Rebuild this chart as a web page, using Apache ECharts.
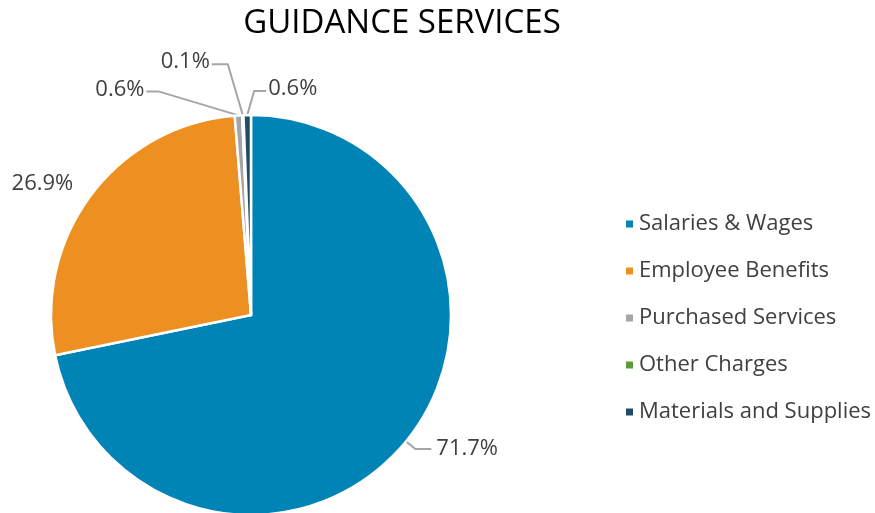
<!DOCTYPE html>
<html>
<head>
<meta charset="utf-8">
<script src="https://cdn.jsdelivr.net/npm/echarts@6/dist/echarts.min.js"></script>
<style>
  html, body { margin: 0; padding: 0; background: #fff; }
  #chart { width: 875px; height: 513px; }
</style>
</head>
<body>
<div id="chart"></div>
<script>
const categories = ['Salaries & Wages', 'Employee Benefits', 'Purchased Services', 'Other Charges', 'Materials and Supplies'];
const shares = [71.7, 26.9, 0.6, 0.1, 0.6];
const colors = ['#0083B5', '#EE9021', '#A5A5A5', '#5B9B3B', '#1F4E64'];

const font = 'Open Sans';

// leader line bends for the three thin slices: [elbow dx, elbow dy, tail dx]
const smallLeaders = {
  2: [-80, -24, -12],
  3: [-15, -51, -16],
  4: [7, -24, 12]
};

const chart = echarts.init(document.getElementById('chart'));

const data = categories.map((name, i) => {
  const item = { name, value: shares[i], itemStyle: { color: colors[i] } };
  if (i === 1) {
    item.labelLine = { show: false };
    item.label = { distance: 0 };
  }
  return item;
});

chart.setOption({
  animation: false,
  title: {
    text: 'GUIDANCE SERVICES',
    left: 397,
    textAlign: 'center',
    top: 2,
    textStyle: { fontFamily: font, fontWeight: 'normal', fontSize: 33, color: '#000' }
  },
  legend: {
    orient: 'vertical',
    left: 619,
    top: 208,
    itemWidth: 9,
    itemHeight: 9,
    itemGap: 25,
    icon: 'rect',
    textStyle: { fontFamily: font, fontSize: 22, color: '#404040' },
    data: categories
  },
  series: [{
    type: 'pie',
    center: [251, 315],
    radius: 200,
    startAngle: 90,
    clockwise: true,
    itemStyle: { borderColor: '#fff', borderWidth: 2.5 },
    label: {
      show: true,
      overflow: 'none',
      formatter: p => p.value.toFixed(1) + '%',
      fontFamily: font,
      fontSize: 22,
      color: '#404040'
    },
    labelLine: {
      show: true,
      length: 12,
      length2: 16,
      lineStyle: { color: '#A5A5A5', width: 2 }
    },
    labelLayout: params => {
      if (params.dataIndex === 1) return { dx: 8, dy: -4 };
      const bend = smallLeaders[params.dataIndex];
      if (!bend || !params.labelLinePoints) return {};
      const a = params.labelLinePoints[0];
      const elbow = [a[0] + bend[0], a[1] + bend[1]];
      const tail = [elbow[0] + bend[2], elbow[1]];
      return {
        x: tail[0] + (bend[2] < 0 ? -2 : 2),
        y: tail[1] - 2,
        align: bend[2] < 0 ? 'right' : 'left',
        verticalAlign: 'middle',
        labelLinePoints: [a, elbow, tail]
      };
    },
    data
  }]
});
</script>
</body>
</html>
